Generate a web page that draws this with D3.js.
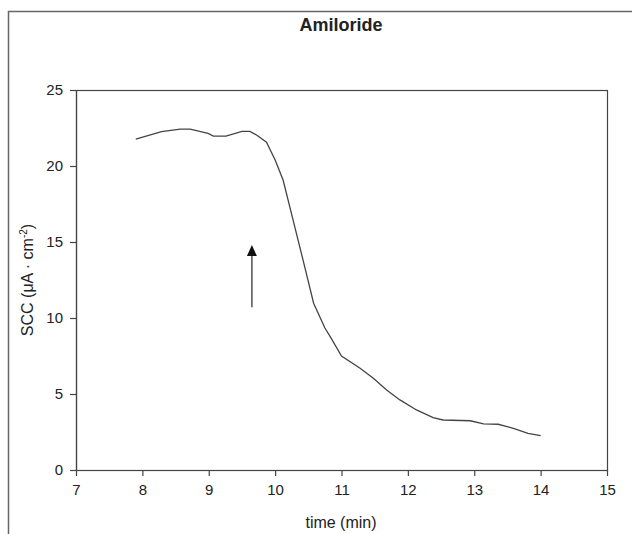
<!DOCTYPE html>
<html>
<head>
<meta charset="utf-8">
<script src="https://cdn.jsdelivr.net/npm/d3@7"></script>
<style>
  body { margin: 0; background: #fff; }
  text { font-family: "Liberation Sans", Arial, sans-serif; fill: #222; }
</style>
</head>
<body>
<script>
// Chart data
const timeMin = [7.90, 8.29, 8.57, 8.72, 8.99, 9.07, 9.26, 9.50, 9.62, 9.72, 9.87, 10.00,
                 10.12, 10.27, 10.42, 10.58, 10.75, 10.83, 11.00, 11.28, 11.48, 11.68, 11.88,
                 12.13, 12.38, 12.53, 12.94, 13.14, 13.36, 13.59, 13.81, 14.00];
const scc = [21.76, 22.26, 22.43, 22.43, 22.15, 21.97, 21.97, 22.28, 22.28, 22.04, 21.56, 20.39,
             19.08, 16.45, 13.82, 10.97, 9.34, 8.77, 7.50, 6.69, 6.03, 5.26, 4.61,
             3.95, 3.44, 3.29, 3.24, 3.03, 3.01, 2.74, 2.41, 2.26];
const xTicks = [7, 8, 9, 10, 11, 12, 13, 14, 15];
const yTicks = [0, 5, 10, 15, 20, 25];
// arrow marking amiloride addition: [time, from, to]
const arrowPos = [9.65, 10.7, 14.8];

const width = 632, height = 534;
const margin = {top: 90, right: 25, bottom: 64, left: 76};
const innerWidth = width - margin.left - margin.right;
const innerHeight = height - margin.top - margin.bottom;

const svg = d3.select("body").append("svg")
    .attr("width", width)
    .attr("height", height);

// outer frame (top and left edges only visible)
svg.append("path")
    .attr("d", "M8.5,534 V11.5 H632")
    .attr("fill", "none")
    .attr("stroke", "#666")
    .attr("stroke-width", 1.5);

const g = svg.append("g")
    .attr("transform", `translate(${margin.left}, ${margin.top})`);

const x = d3.scaleLinear().domain([7, 15]).range([0, innerWidth]);
const y = d3.scaleLinear().domain([0, 25]).range([innerHeight, 0]);

// plot box
g.append("rect")
    .attr("x", 0.5).attr("y", 0.5)
    .attr("width", innerWidth).attr("height", innerHeight)
    .attr("fill", "none")
    .attr("stroke", "#444")
    .attr("stroke-width", 1.2);

// axes
const xAxis = g.append("g")
    .attr("transform", `translate(0, ${innerHeight})`)
    .call(d3.axisBottom(x).tickValues(xTicks).tickSize(6).tickPadding(8).tickSizeOuter(0));
const yAxis = g.append("g")
    .call(d3.axisLeft(y).tickValues(yTicks).tickSize(6).tickPadding(7).tickSizeOuter(0));

[xAxis, yAxis].forEach(a => {
    a.select(".domain").attr("stroke", "#444").attr("stroke-width", 1.2);
    a.selectAll(".tick line").attr("stroke", "#444").attr("stroke-width", 1.2);
    a.selectAll(".tick text")
        .attr("font-size", 15)
        .attr("font-family", "Liberation Sans, Arial, sans-serif")
        .attr("fill", "#333");
});

// data line
const data = timeMin.map((t, i) => ({t: t, v: scc[i]}));
g.append("path")
    .datum(data)
    .attr("fill", "none")
    .attr("stroke", "#444")
    .attr("stroke-width", 1.3)
    .attr("d", d3.line()
        .x(d => x(d.t))
        .y(d => y(d.v)));

// arrow
const ax = x(arrowPos[0]);
g.append("line")
    .attr("x1", ax).attr("x2", ax)
    .attr("y1", y(arrowPos[1])).attr("y2", y(arrowPos[2]) + 9)
    .attr("stroke", "#444")
    .attr("stroke-width", 1.4);
g.append("path")
    .attr("d", `M${ax},${y(arrowPos[2])} l5,11 h-10 z`)
    .attr("fill", "#111");

// title
svg.append("text")
    .attr("x", 341).attr("y", 31)
    .attr("text-anchor", "middle")
    .attr("font-size", 18)
    .attr("font-weight", "bold")
    .text("Amiloride");

// x label
svg.append("text")
    .attr("x", 341)
    .attr("y", 528)
    .attr("text-anchor", "middle")
    .attr("font-size", 16)
    .text("time (min)");

// y label
const yl = svg.append("text")
    .attr("transform", `translate(33, ${margin.top + innerHeight / 2}) rotate(-90)`)
    .attr("text-anchor", "middle")
    .attr("font-size", 16);
yl.append("tspan").text("SCC (μA · cm");
yl.append("tspan").attr("font-size", 10).attr("dy", -6).text("-2");
yl.append("tspan").attr("dy", 6).text(")");
</script>
</body>
</html>
